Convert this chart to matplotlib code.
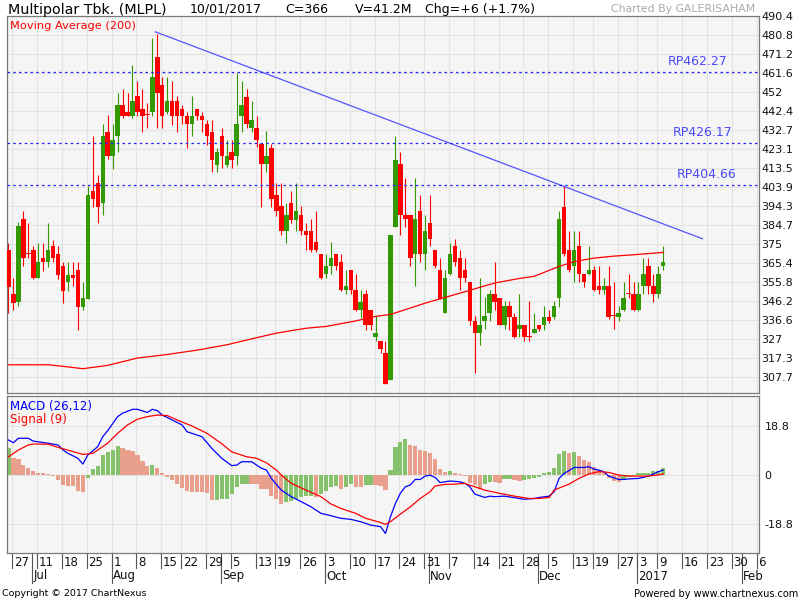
import numpy as np
import matplotlib
matplotlib.use('Agg')
import matplotlib.pyplot as plt
from matplotlib.transforms import blended_transform_factory

# ---- daily candles, 24 Jun 2016 .. 10 Jan 2017 (trading days only) ----
opens = [372.0, 349.7, 345.6, 387.8, 370.2, 372.0, 357.5, 368.0, 366.0, 374.0,
         370.0, 364.0, 355.5, 359.5, 361.8, 343.3, 347.2, 401.9, 405.8, 395.5,
         431.6, 419.3, 429.4, 445.5, 441.8, 439.6, 449.7, 443.5, 440.3, 441.8,
         469.6, 455.6, 441.8, 447.5, 447.5, 443.5, 439.6, 435.7, 443.5, 439.6,
         435.7, 431.6, 415.1, 429.4, 415.1, 421.5, 419.3, 439.6, 449.4, 433.7,
         433.7, 425.6, 415.4, 423.5, 399.9, 394.0, 381.3, 395.7, 387.2, 389.8,
         381.6, 381.6, 375.8, 369.8, 359.7, 363.9, 369.8, 365.8, 351.8, 361.9,
         351.8, 341.7, 349.6, 341.7, 327.9, 326.0, 319.7, 305.9, 383.5, 415.6,
         389.8, 389.8, 369.8, 391.8, 369.8, 385.5, 371.7, 361.9, 340.0, 359.9,
         374.0, 367.8, 361.9, 355.7, 335.8, 329.8, 335.8, 340.0, 349.6, 347.5,
         334.0, 343.7, 337.8, 331.9, 334.0, 328.0, 329.8, 334.0, 334.0, 337.8,
         337.8, 347.5, 393.6, 372.0, 363.6, 374.0, 359.7, 359.7, 361.9, 353.8,
         351.8, 353.8, 338.5, 337.8, 341.7, 349.8, 349.6, 341.7, 353.8, 363.6,
         353.8, 349.6, 363.6]
highs = [375.4, 357.7, 385.9, 391.8, 385.4, 374.0, 375.4, 375.4, 385.4, 377.1,
         374.0, 366.0, 366.0, 366.0, 366.0, 355.5, 404.3, 429.8, 410.0, 435.7,
         440.1, 435.7, 451.4, 453.6, 451.4, 465.7, 457.6, 453.6, 446.3, 479.2,
         481.3, 459.5, 459.5, 457.6, 449.7, 445.5, 441.8, 449.7, 443.5, 441.8,
         437.9, 437.9, 423.5, 433.7, 427.6, 427.8, 461.5, 457.6, 453.4, 447.5,
         439.9, 425.6, 432.0, 425.6, 405.8, 405.8, 395.7, 401.9, 405.8, 394.0,
         385.5, 387.6, 391.8, 369.8, 369.8, 375.8, 369.8, 369.8, 361.9, 361.9,
         359.7, 351.8, 351.8, 341.7, 338.3, 326.0, 326.0, 379.6, 429.8, 421.5,
         408.3, 389.8, 408.3, 399.9, 389.8, 399.9, 371.7, 367.8, 361.9, 375.7,
         377.6, 372.1, 367.8, 355.7, 338.3, 357.7, 347.9, 351.8, 365.8, 347.5,
         345.9, 345.9, 340.0, 349.6, 334.0, 345.9, 340.0, 334.0, 343.7, 341.7,
         345.9, 391.8, 404.1, 381.3, 381.3, 381.3, 359.7, 374.0, 363.6, 363.6,
         357.7, 363.6, 355.7, 343.7, 355.7, 359.7, 355.7, 355.7, 367.8, 367.8,
         359.7, 363.6, 374.0]
lows = [340.0, 341.3, 343.4, 363.6, 368.0, 357.0, 357.5, 361.5, 363.4, 366.0,
        357.0, 345.3, 351.4, 353.5, 331.5, 341.3, 347.2, 393.5, 385.6, 389.4,
        418.0, 413.1, 421.5, 439.0, 439.6, 439.0, 439.6, 431.6, 433.7, 439.6,
        433.7, 433.7, 441.0, 435.4, 431.6, 435.7, 423.5, 429.4, 437.9, 431.6,
        425.2, 411.2, 411.2, 413.4, 414.0, 413.4, 415.1, 431.5, 433.7, 431.5,
        424.0, 393.5, 411.4, 393.5, 389.3, 379.3, 375.4, 385.5, 381.3, 379.3,
        371.7, 371.0, 371.0, 357.0, 357.7, 359.7, 361.9, 351.0, 349.6, 349.6,
        341.0, 337.4, 331.5, 331.5, 325.6, 319.7, 304.0, 305.9, 383.5, 379.3,
        383.5, 363.6, 353.5, 365.8, 361.9, 373.7, 363.0, 347.0, 340.0, 359.0,
        363.6, 351.8, 355.7, 334.0, 309.6, 323.6, 331.9, 335.8, 341.7, 334.0,
        331.9, 331.5, 327.5, 327.8, 325.6, 325.6, 329.8, 331.0, 331.5, 335.0,
        337.0, 343.3, 369.0, 361.0, 355.7, 355.7, 353.0, 359.0, 351.0, 349.6,
        349.6, 337.0, 331.9, 335.8, 341.0, 347.5, 341.0, 341.0, 349.6, 349.6,
        345.5, 347.5, 361.6]
closes = [353.4, 345.3, 383.9, 367.8, 369.9, 357.5, 366.0, 366.0, 372.0, 368.0,
          359.5, 351.4, 359.5, 357.5, 343.3, 347.6, 399.9, 397.9, 393.5, 429.8,
          419.3, 427.6, 445.5, 439.6, 439.6, 447.5, 441.8, 439.6, 440.1, 459.5,
          451.4, 439.6, 447.5, 439.6, 439.6, 439.6, 435.7, 439.6, 439.6, 437.7,
          429.4, 417.3, 421.3, 419.3, 419.3, 417.3, 435.7, 445.5, 435.7, 437.9,
          427.8, 415.4, 419.3, 397.7, 391.5, 381.3, 389.8, 387.2, 391.8, 381.3,
          379.3, 371.7, 371.7, 357.7, 363.9, 367.8, 363.9, 351.8, 353.8, 351.8,
          341.7, 345.5, 333.7, 333.7, 330.0, 321.7, 304.2, 379.6, 417.6, 389.8,
          387.8, 367.8, 387.6, 369.8, 381.6, 377.6, 363.9, 347.1, 357.7, 370.0,
          365.6, 357.7, 357.7, 335.8, 329.8, 334.0, 338.3, 349.6, 345.5, 334.0,
          343.7, 337.8, 327.8, 334.0, 327.8, 327.8, 331.9, 331.9, 337.8, 335.8,
          343.7, 387.6, 370.0, 361.6, 372.0, 359.7, 355.7, 361.9, 351.8, 351.8,
          353.8, 337.8, 338.3, 340.0, 347.5, 349.6, 341.7, 349.6, 359.7, 353.8,
          349.6, 359.7, 365.8]

# moving average (200), read at a few bars
ma_idx = [0, 8, 11, 15, 20, 26, 32, 38, 44, 50, 54, 60, 64, 70, 74, 77, 80, 84,
          88, 93, 98, 103, 106, 111, 114, 118, 122, 126, 132]
ma_vals = [313.8, 313.8, 313.0, 311.8, 313.5, 317.2, 319.0, 321.2, 323.9, 327.5,
           329.8, 332.3, 333.2, 336.0, 338.3, 339.3, 341.7, 345.0, 347.9, 351.5,
           355.2, 357.5, 358.6, 363.6, 366.0, 367.8, 368.8, 369.5, 370.7]

# resistance lines and trend line
rp_levels = [462.27, 426.17, 404.66]
rp_label_x = [133.0, 134.0, 134.8]
trend_x = [29.6, 139.9]
trend_y = [482.4, 377.6]

price_ticks = ['490.4', '480.8', '471.2', '461.6', '452', '442.4', '432.7', '423.1',
               '413.5', '403.9', '394.3', '384.7', '375', '365.4', '355.8', '346.2',
               '336.6', '327', '317.3', '307.7']

# MACD panel
macd_idx = [0, 1, 2, 4, 5, 8, 10, 11, 12, 14, 15, 16, 18, 19, 20, 22, 23, 25, 26,
            28, 29, 30, 31, 33, 35, 36, 39, 41, 43, 45, 46, 47, 49, 51, 52, 53, 55,
            57, 59, 61, 63, 65, 67, 69, 71, 73, 75, 76, 77, 78, 79, 80, 81, 82, 83,
            84, 85, 86, 87, 88, 89, 91, 92, 93, 94, 96, 97, 98, 100, 102, 104, 106,
            107, 109, 110, 111, 112, 113, 114, 116, 117, 118, 119, 120, 121, 123,
            124, 125, 127, 128, 129, 130, 131, 132]
macd_vals = [13.4, 12.4, 14.1, 14.1, 13.0, 12.2, 11.5, 9.6, 8.3, 6.4, 4.2, 7.7,
             10.9, 14.7, 17.0, 22.4, 23.7, 25.2, 25.2, 24.0, 25.2, 24.7, 23.0, 21.1,
             19.2, 16.6, 14.7, 10.2, 6.4, 3.6, 3.8, 5.1, 5.1, 2.6, 1.9, -1.3, -5.8,
             -8.3, -10.2, -12.2, -14.7, -15.6, -16.6, -17.0, -17.9, -19.2, -19.8,
             -22.4, -16.0, -10.9, -7.0, -4.5, -3.8, -1.7, -1.7, -0.4, -0.1, -0.9,
             -2.9, -2.6, -2.3, -2.6, -3.2, -4.5, -7.3, -8.6, -8.1, -8.3, -8.1, -8.7,
             -9.3, -9.0, -8.6, -8.1, -6.4, -1.3, 0.6, 1.7, 2.9, 2.9, 3.2, 2.3, 1.9,
             1.3, -0.4, -1.7, -1.7, -1.5, -1.3, -0.9, -0.4, 0.4, 1.3, 1.9]
sig_idx = [0, 2, 4, 5, 8, 10, 13, 15, 17, 18, 20, 22, 24, 26, 28, 30, 32, 34, 37,
           40, 43, 45, 48, 50, 52, 54, 55, 57, 60, 63, 65, 67, 70, 72, 75, 76, 77,
           79, 81, 83, 85, 86, 88, 90, 92, 94, 96, 99, 102, 105, 107, 109, 110, 111,
           113, 115, 117, 119, 121, 123, 125, 127, 129, 131, 132]
sig_vals = [7.0, 9.6, 11.5, 11.9, 11.8, 10.6, 9.0, 7.9, 8.3, 9.6, 12.2, 16.0, 19.2,
            21.4, 22.4, 23.0, 22.8, 21.1, 18.8, 16.0, 12.0, 8.9, 7.0, 6.4, 4.7, 1.9,
            0.0, -3.2, -5.8, -8.3, -11.1, -12.8, -14.7, -16.6, -18.2, -18.9, -17.9,
            -15.0, -12.2, -9.0, -6.4, -4.2, -3.6, -3.5, -3.2, -4.5, -5.8, -7.0, -8.1,
            -9.0, -9.0, -8.6, -5.8, -5.0, -3.5, -1.3, 0.4, 1.3, 1.0, 0.0, -0.4, -0.4,
            -0.4, 0.0, 0.4]
hist_vals = [10.5, 6.7, 6.1, 4.0, 2.8, 1.5, 0.9, 0.8, 0.3, -0.3,
             -1.9, -3.8, -4.2, -4.3, -6.0, -6.4, -1.0, 2.3, 3.6, 7.7,
             8.8, 9.6, 11.1, 10.5, 9.6, 9.2, 7.7, 5.5, 3.5, 3.8,
             2.8, 0.6, -0.9, -1.9, -3.6, -4.9, -6.0, -6.4, -6.5, -6.6,
             -7.0, -9.6, -9.4, -9.3, -9.2, -7.3, -4.5, -3.5, -3.3, -3.5,
             -3.6, -5.4, -5.5, -8.1, -9.3, -11.1, -10.5, -10.0, -9.2, -8.3,
             -8.1, -8.0, -8.4, -7.3, -6.1, -4.7, -4.1, -5.4, -4.5, -3.6,
             -4.5, -4.6, -3.8, -3.7, -3.9, -4.1, -5.8, 1.9, 10.6, 12.8,
             13.8, 11.5, 11.2, 9.6, 9.2, 8.3, 6.0, 2.3, 1.3, 1.5,
             0.9, 0.3, -0.3, -3.2, -3.8, -5.5, -3.6, -2.6, -2.8, -2.9,
             -1.7, -1.6, -1.9, -2.2, -2.0, -1.7, -1.0, -0.6, 0.6, 1.3,
             2.6, 7.9, 9.2, 8.6, 9.0, 7.3, 5.8, 5.1, 3.2, 1.9,
             0.6, -1.0, -2.2, -2.6, -1.9, -0.9, -0.4, 0.6, 0.6, 0.7,
             1.5, 1.6, 2.8]

# date axis: first trading day of each week, and first of each month
week_idx = [1, 6, 11, 16, 21, 26, 31, 35, 40, 45, 50, 54, 59, 64, 69, 74, 79, 84,
            89, 94, 99, 104, 109, 114, 118, 123, 127, 131, 136, 141, 146, 151]
week_lbl = ['27', '11', '18', '25', '1', '8', '15', '22', '29', '5', '13', '19', '26',
            '3', '10', '17', '24', '31', '7', '14', '21', '28', '5', '13', '19', '27',
            '3', '9', '16', '23', '30', '6']
month_idx = [5, 21, 43, 64, 85, 107, 127, 148]
month_lbl = ['Jul', 'Aug', 'Sep', 'Oct', 'Nov', 'Dec', '2017', 'Feb']

RED = '#ff0000'
GREEN = '#339900'
BG = '#f5f5f5'
GRID = '#e3e3e3'
SPINE = '#7a7a7a'
W, H = 800, 600


def fx(px):
    return px / W


def fy(py):
    return 1 - py / H


fig = plt.figure(figsize=(8, 6), dpi=100)
ax = fig.add_axes([fx(7), fy(393), fx(752), 377 / H])
axm = fig.add_axes([fx(7), fy(553), fx(752), 157 / H])

xmin, xmax = -0.3, 151.3
grid_x = [i - 0.2 for i in week_idx]

for a in (ax, axm):
    a.set_facecolor(BG)
    a.set_xlim(xmin, xmax)
    a.set_axisbelow(True)
    for s in a.spines.values():
        s.set_color(SPINE)
        s.set_linewidth(0.9)
    a.set_xticks([])
    for gx in grid_x:
        a.axvline(gx, color=GRID, lw=0.8, zorder=0)
    a.yaxis.tick_right()

# ---- price panel ----
ax.set_ylim(299.5, 490.4)
pt = [float(t) for t in price_ticks]
ax.set_yticks(pt)
ax.set_yticklabels(price_ticks, fontsize=8, color='#111111')
ax.tick_params(axis='y', length=0, pad=1.5)
for v in pt:
    ax.axhline(v, color=GRID, lw=0.8, zorder=0)

o = np.array(opens)
h = np.array(highs)
l = np.array(lows)
c = np.array(closes)
x = np.arange(len(o))
col = np.where(c > o, GREEN, RED)
ax.vlines(x, l, h, colors=col, lw=0.8, zorder=2)
body = np.maximum(np.abs(c - o), 0.6)
ax.bar(x, body, bottom=np.minimum(o, c), width=0.9, color=col, lw=0, zorder=3)

ax.plot(ma_idx, ma_vals, color=RED, lw=0.9, zorder=4)
ax.plot(trend_x, trend_y, color='#5555ff', lw=0.9, zorder=4)
for lv, lx in zip(rp_levels, rp_label_x):
    ax.axhline(lv, color='#2222ff', lw=0.9, ls=(0, (2, 2.6)), zorder=4)
    ax.text(lx, lv + 2.0, 'RP%.2f' % lv, color='#4a4aff', fontsize=9,
            ha='left', va='bottom')

ax.text(0.004, 0.988, 'Moving Average (200)', transform=ax.transAxes, color=RED,
        fontsize=8.2, ha='left', va='top')

# ---- MACD panel ----
axm.set_ylim(-29.9, 30.3)
axm.set_yticks([18.8, 0, -18.8])
axm.set_yticklabels(['18.8', '0', '-18.8'], fontsize=8, color='#111111')
axm.tick_params(axis='y', length=0, pad=4)
for v in [18.8, 0, -18.8]:
    axm.axhline(v, color=GRID, lw=0.8, zorder=0)

hv = np.array(hist_vals)
prev = np.concatenate([[hv[0] - 1], hv[:-1]])
hcol = np.where(hv >= prev, '#86c26c', '#e8a08c')
axm.bar(np.arange(len(hv)), hv, width=0.85, color=hcol, lw=0, zorder=2)
axm.plot(macd_idx, macd_vals, color='#0000ff', lw=0.9, zorder=3)
axm.plot(sig_idx, sig_vals, color=RED, lw=0.9, zorder=3)
axm.text(0.004, 0.975, 'MACD (26,12)', transform=axm.transAxes, color='#0000ff',
         fontsize=8.5, ha='left', va='top')
axm.text(0.004, 0.89, 'Signal (9)', transform=axm.transAxes, color=RED,
         fontsize=8.5, ha='left', va='top')

# ---- date axis below MACD ----
tr = blended_transform_factory(axm.transData, fig.transFigure)
for i, lab in zip(week_idx, week_lbl):
    xi = i - 0.2
    axm.plot([xi, xi], [fy(553), fy(568)], color='#555555', lw=0.8,
             transform=tr, clip_on=False)
    axm.text(xi + 0.35, fy(562), lab, transform=tr, fontsize=8.5,
             ha='left', va='center', color='#111111')
for i, lab in zip(month_idx, month_lbl):
    xi = i - 0.2
    axm.plot([xi, xi], [fy(553), fy(583)], color='#555555', lw=0.8,
             transform=tr, clip_on=False)
    axm.text(xi + 0.2, fy(576), lab, transform=tr, fontsize=8.5,
             ha='left', va='center', color='#111111')

# ---- header / footer texts ----
fig.text(fx(8), fy(10), 'Multipolar Tbk. (MLPL)', fontsize=10.3, ha='left', va='center')
fig.text(fx(190), fy(9.5), '10/01/2017', fontsize=9, ha='left', va='center')
fig.text(fx(285), fy(9.5), 'C=366', fontsize=9, ha='left', va='center')
fig.text(fx(355), fy(9.5), 'V=41.2M', fontsize=9, ha='left', va='center')
fig.text(fx(425), fy(9.5), 'Chg=+6 (+1.7%)', fontsize=9, ha='left', va='center')
fig.text(fx(755), fy(9), 'Charted By GALERISAHAM', fontsize=7.8, color='#aaaaaa',
         ha='right', va='center')
fig.text(fx(2), fy(594), 'Copyright \u00a9 2017 ChartNexus', fontsize=6.8,
         ha='left', va='center')
fig.text(fx(798), fy(594), 'Powered by www.chartnexus.com', fontsize=7,
         ha='right', va='center')

fig.savefig('out.png', dpi=100)
